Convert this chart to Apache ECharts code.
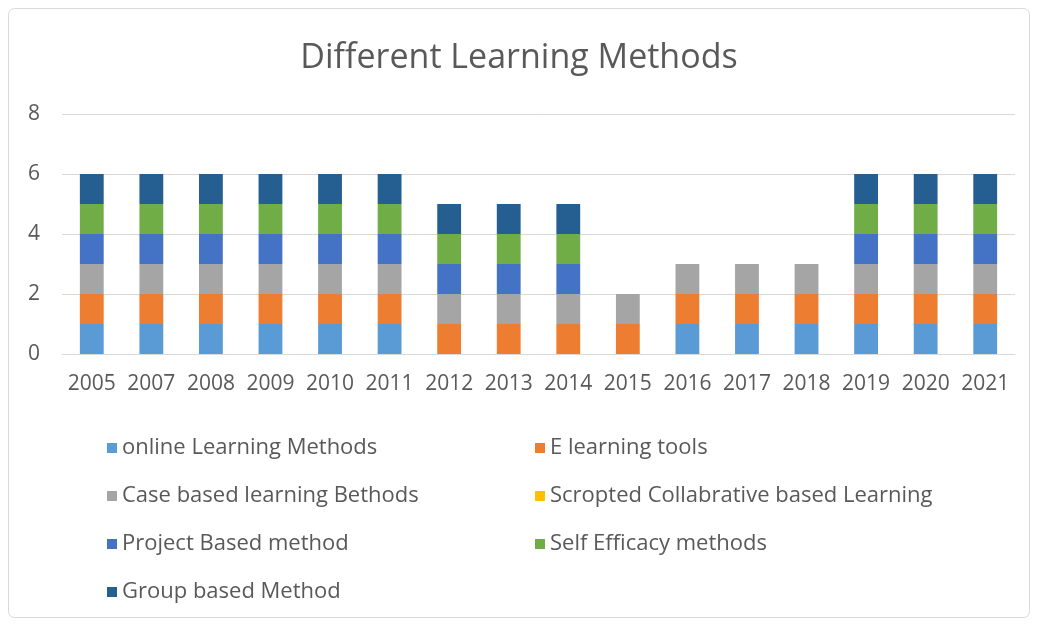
<!DOCTYPE html>
<html>
<head>
<meta charset="utf-8">
<script src="https://cdn.jsdelivr.net/npm/echarts@6/dist/echarts.min.js"></script>
<style>
	html, body { margin: 0; padding: 0; background: #fff; }
	#chart { width: 1038px; height: 627px; }
</style>
</head>
<body>
<div id="chart"></div>
<script>
const years = ['2005', '2007', '2008', '2009', '2010', '2011', '2012', '2013', '2014', '2015', '2016', '2017', '2018', '2019', '2020', '2021'];
const seriesNames = [
	'online Learning Methods',
	'E learning tools',
	'Case based learning Bethods',
	'Scropted Collabrative based Learning',
	'Project Based method',
	'Self Efficacy methods',
	'Group based Method'
];
const online = [1, 1, 1, 1, 1, 1, 0, 0, 0, 0, 1, 1, 1, 1, 1, 1];
const eLearning = [1, 1, 1, 1, 1, 1, 1, 1, 1, 1, 1, 1, 1, 1, 1, 1];
const caseBased = [1, 1, 1, 1, 1, 1, 1, 1, 1, 1, 1, 1, 1, 1, 1, 1];
const scripted = [0, 0, 0, 0, 0, 0, 0, 0, 0, 0, 0, 0, 0, 0, 0, 0];
const project = [1, 1, 1, 1, 1, 1, 1, 1, 1, 0, 0, 0, 0, 1, 1, 1];
const selfEfficacy = [1, 1, 1, 1, 1, 1, 1, 1, 1, 0, 0, 0, 0, 1, 1, 1];
const group = [1, 1, 1, 1, 1, 1, 1, 1, 1, 0, 0, 0, 0, 1, 1, 1];
const yTicks = [0, 2, 4, 6, 8];

const values = [online, eLearning, caseBased, scripted, project, selfEfficacy, group];
const colors = ['#5B9BD5', '#ED7D31', '#A5A5A5', '#FFC000', '#4472C4', '#70AD47', '#255E91'];
const font = '"Open Sans", "Noto Sans", sans-serif';
const textColor = '#595959';

const legendStyle = {
	orient: 'vertical',
	icon: 'rect',
	itemWidth: 10,
	itemHeight: 10,
	itemGap: 26,
	textStyle: { color: textColor, fontSize: 22, fontFamily: font }
};

const myChart = echarts.init(document.getElementById('chart'));
const option = {
	animation: false,
	color: colors,
	title: {
		text: 'Different Learning Methods',
		left: 'center',
		top: 36,
		textStyle: { color: textColor, fontSize: 34, fontWeight: 'normal', fontFamily: font }
	},
	graphic: [
		{
			type: 'rect',
			shape: { x: 8.5, y: 8.5, width: 1021, height: 609, r: 6 },
			style: { fill: 'none', stroke: '#D9D9D9', lineWidth: 1 },
			silent: true
		}
	],
	legend: [
		{ ...legendStyle, left: 102, top: 432, data: [seriesNames[0], seriesNames[2], seriesNames[4], seriesNames[6]] },
		{ ...legendStyle, left: 530, top: 432, data: [seriesNames[1], seriesNames[3], seriesNames[5]] }
	],
	grid: { left: 62, right: 23, top: 114, bottom: 273 },
	xAxis: {
		type: 'category',
		data: years,
		axisTick: { show: false },
		axisLine: { lineStyle: { color: '#D9D9D9' } },
		axisLabel: { color: textColor, fontSize: 21, fontFamily: font, margin: 20, interval: 0 }
	},
	yAxis: {
		type: 'value',
		min: yTicks[0],
		max: yTicks[yTicks.length - 1],
		interval: yTicks[1] - yTicks[0],
		axisLabel: { color: textColor, fontSize: 21, fontFamily: font, margin: 22 },
		splitLine: { lineStyle: { color: '#D9D9D9' } }
	},
	series: seriesNames.map((name, i) => ({
		name,
		type: 'bar',
		stack: 'total',
		barWidth: '40%',
		data: values[i]
	}))
};
myChart.setOption(option);
</script>
</body>
</html>
